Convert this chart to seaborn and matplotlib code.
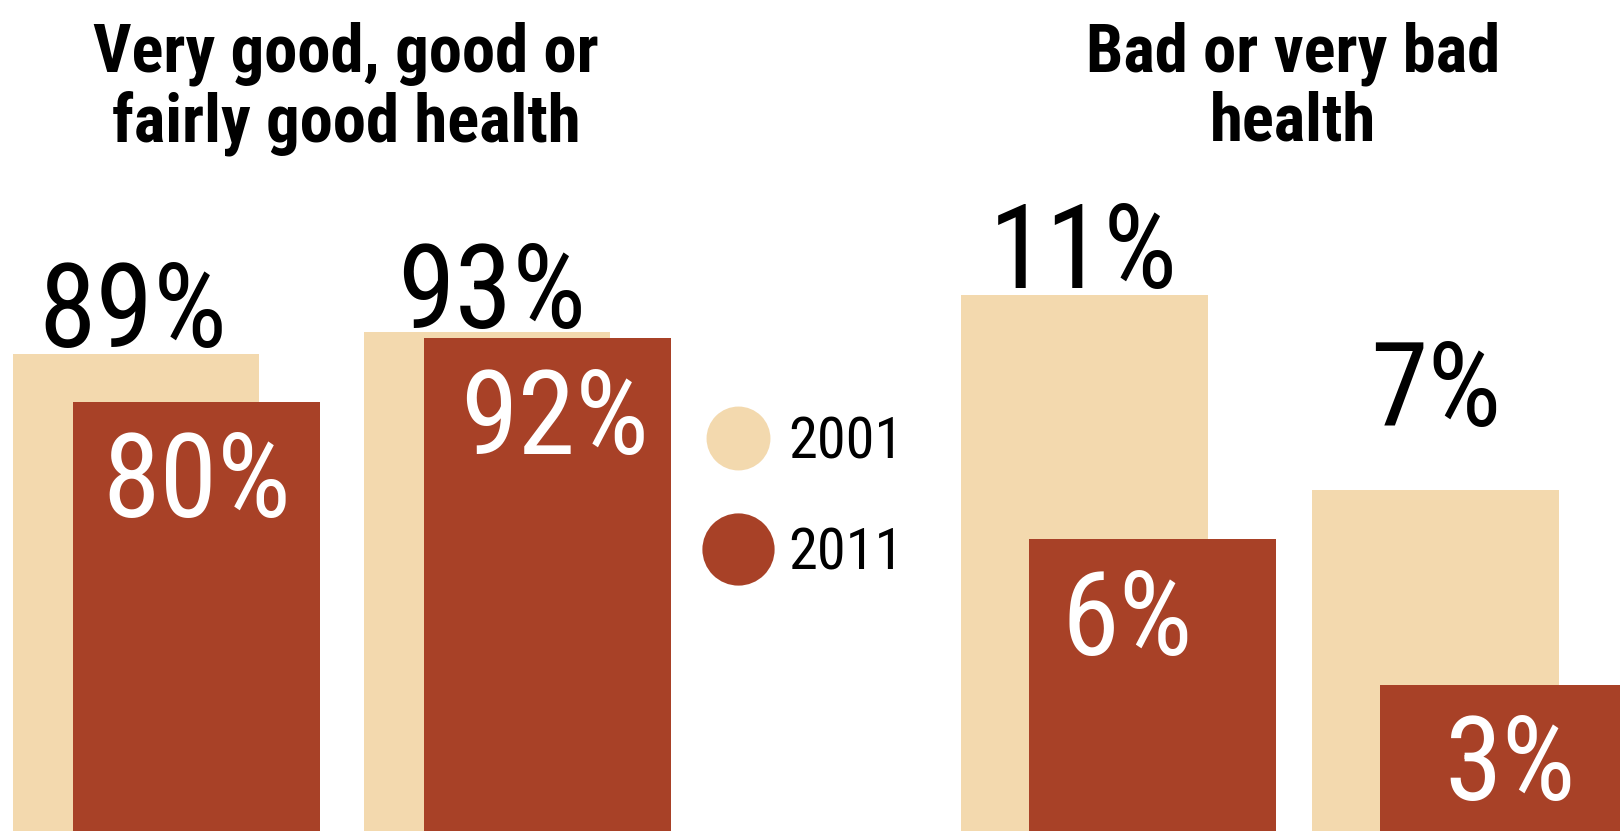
import numpy as np
import pandas as pd
import matplotlib
matplotlib.use("Agg")
import matplotlib.pyplot as plt
import seaborn as sns
from matplotlib import font_manager
from matplotlib.lines import Line2D

# data
groups = ["Group 1", "Group 2"]
years = ["2001", "2011"]
good_2001 = [89, 93]
good_2011 = [80, 92]
bad_2001 = [11, 7]
bad_2011 = [6, 3]
good_title = "Very good, good or\nfairly good health"
bad_title = "Bad or very bad\nhealth"

beige = "#F3D9AE"
rust = "#A84127"


def pick_font(cands):
    for name in cands:
        try:
            font_manager.findfont(font_manager.FontProperties(family=name),
                                  fallback_to_default=False)
            return name
        except ValueError:
            pass
    return "DejaVu Sans"


sns.set_style("white")
font = pick_font(["Roboto Condensed", "Liberation Sans Narrow",
                  "Open Sans Condensed", "Liberation Sans"])
plt.rcParams["font.family"] = [font, "DejaVu Sans"]
plt.rcParams["text.color"] = "black"

fig = plt.figure(figsize=(16.2, 8.31), dpi=100)
ax_good = fig.add_axes([0, 0, 0.5, 1])
ax_bad = fig.add_axes([0.5, 0, 0.5, 1])

bar_w = 0.703
num_size = 84


def draw_panel(ax, v01, v11, shift, ymax, xlim, top_off, in_off):
    pos = np.arange(len(groups), dtype=float)
    df = pd.DataFrame({"group": groups * 2,
                       "year": [years[0]] * 2 + [years[1]] * 2,
                       "value": v01 + v11,
                       "pos": np.r_[pos, pos + shift]})
    for yr, col in zip(years, [beige, rust]):
        d = df[df["year"] == yr]
        sns.barplot(data=d, x="pos", y="value", native_scale=True,
                    width=bar_w, color=col, saturation=1, errorbar=None,
                    linewidth=0, ax=ax)
    # labels: 2001 above the pale bar, 2011 in white inside the dark bar
    for i, (a, b) in enumerate(zip(v01, v11)):
        ax.annotate(f"{a}%", xy=(pos[i], a), xytext=top_off[i],
                    textcoords="offset points", ha="center", va="baseline",
                    fontsize=num_size, color="black")
        ax.annotate(f"{b}%", xy=(pos[i] + shift, b), xytext=in_off[i],
                    textcoords="offset points", ha="center", va="baseline",
                    fontsize=num_size, color="white")
    ax.set_xlim(*xlim)
    ax.set_ylim(0, ymax)
    ax.axis("off")


draw_panel(ax_good, good_2001, good_2011, 0.172, 155.0, (-0.3875, 1.920),
           [(-2, 5), (3, 3)], [(0, -83), (5, -84)])
draw_panel(ax_bad, bad_2001, bad_2011, 0.193, 17.06, (-0.782, 1.526),
           [(-1, 5), (0, 46)], [(-18, -83.5), (5, -83)])

fig.text(0.2136, 1 - 22 / 831, good_title, ha="center", va="top",
         fontsize=48, fontweight="bold", linespacing=1.08, color="black")
fig.text(0.798, 1 - 22 / 831, bad_title, ha="center", va="top",
         fontsize=48, fontweight="bold", linespacing=1.08, color="black")

handles = [Line2D([0], [0], marker="o", ls="", markersize=46,
                  markerfacecolor=beige, markeredgewidth=0, label=years[0]),
           Line2D([0], [0], marker="o", ls="", markersize=52,
                  markerfacecolor=rust, markeredgewidth=0, label=years[1])]
fig.legend(handles=handles, loc="center left", bbox_to_anchor=(0.4377, 0.400),
           frameon=False, fontsize=42, handlelength=1.0, handletextpad=0.36,
           labelspacing=0.95, borderpad=0, borderaxespad=0, labelcolor="black")

fig.savefig("out.png", dpi=100)
